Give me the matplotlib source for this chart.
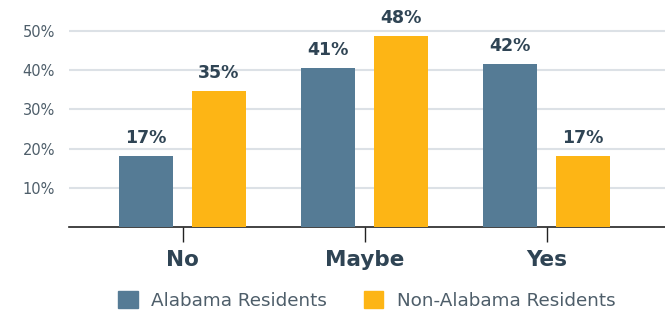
import numpy as np
from matplotlib import pyplot as plt
from matplotlib.patches import Patch

categories = ['No', 'Maybe', 'Yes']
series_names = ['Alabama Residents', 'Non-Alabama Residents']
alabama = [18.2, 40.7, 41.7]
non_alabama = [34.8, 48.8, 18.2]
alabama_labels = ['17%', '41%', '42%']
non_alabama_labels = ['35%', '48%', '17%']
y_ticks = [10, 20, 30, 40, 50]
y_tick_labels = ['10%', '20%', '30%', '40%', '50%']

BLUE = '#557B95'
ORANGE = '#FDB515'
DARK = '#2F4454'
GREY_TXT = '#4E5E6A'
GRID = '#DCE1E6'

plt.rcParams['font.family'] = ['DejaVu Sans']

fig = plt.figure(figsize=(6.65, 3.13), dpi=100)
ax = fig.add_axes([69 / 665, 1 - 226.7 / 313, 1 - 69 / 665, 226.7 / 313])

x = np.arange(len(categories))
w = 0.297
off = 0.2
b1 = ax.bar(x - off, alabama, w, color=BLUE, zorder=3)
b2 = ax.bar(x + off, non_alabama, w, color=ORANGE, zorder=3)

for bars, labels in ((b1, alabama_labels), (b2, non_alabama_labels)):
    for rect, lab in zip(bars, labels):
        ax.annotate(lab, (rect.get_x() + rect.get_width() / 2, rect.get_height()),
                    xytext=(0, 6.5), textcoords='offset points', ha='center', va='bottom',
                    fontsize=12.5, fontweight='bold', color=DARK)

ax.set_xlim(-0.624, 2.65)
ax.set_ylim(0, 58)
ax.set_yticks(y_ticks)
ax.set_yticklabels(y_tick_labels, fontsize=10.5, color=GREY_TXT)
ax.tick_params(axis='y', length=0, pad=10)
ax.set_xticks(x)
ax.set_xticklabels(categories, fontsize=15.5, fontweight='bold', color=DARK)
ax.tick_params(axis='x', length=11, width=1, color='#222222', pad=6)
ax.yaxis.grid(True, color=GRID, linewidth=1.5, zorder=0)
for s in ['left', 'right', 'top']:
    ax.spines[s].set_visible(False)
ax.spines['bottom'].set_color('#222222')
ax.spines['bottom'].set_linewidth(1.2)

handles = [Patch(color=BLUE), Patch(color=ORANGE)]
ax.legend(handles, series_names, loc='center', bbox_to_anchor=(0.5, -0.325),
          ncol=2, frameon=False, fontsize=13.2, handlelength=1.05, handleheight=1.1,
          handletextpad=0.75, columnspacing=2.0, labelcolor=GREY_TXT)

fig.savefig('out.png', dpi=100)
